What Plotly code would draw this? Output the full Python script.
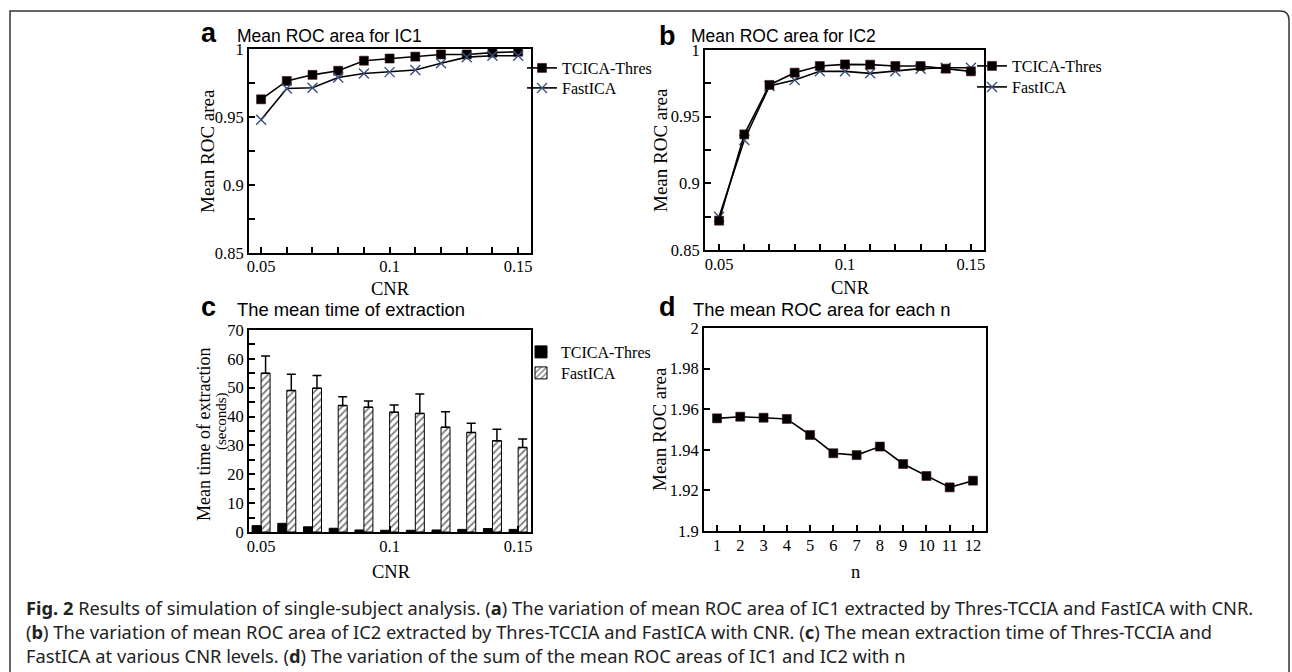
import plotly.graph_objects as go

W, H = 1292, 672

# ---------------- data ----------------
cnr = [0.05, 0.06, 0.07, 0.08, 0.09, 0.10, 0.11, 0.12, 0.13, 0.14, 0.15]
ic1_tcica = [0.963, 0.9765, 0.981, 0.984, 0.9914, 0.993, 0.9944, 0.996, 0.996, 0.9973, 0.998]
ic1_fast = [0.948, 0.971, 0.9715, 0.979, 0.982, 0.983, 0.9845, 0.9895, 0.994, 0.995, 0.995]
ic2_tcica = [0.872, 0.9367, 0.9738, 0.983, 0.988, 0.9892, 0.989, 0.988, 0.988, 0.986, 0.984]
ic2_fast = [0.875, 0.9325, 0.973, 0.9775, 0.984, 0.984, 0.9825, 0.984, 0.986, 0.9867, 0.9867]
time_tcica = [2.2, 3.0, 1.8, 1.3, 0.7, 0.6, 0.6, 0.7, 0.9, 1.2, 0.9]
time_fast = [55.0, 49.0, 49.8, 43.8, 43.2, 41.5, 41.1, 36.3, 34.5, 31.6, 29.3]
time_fast_err = [6.0, 5.7, 4.4, 3.1, 2.2, 2.5, 6.7, 5.4, 3.2, 4.0, 2.9]
n_vals = [1, 2, 3, 4, 5, 6, 7, 8, 9, 10, 11, 12]
roc_sum = [1.9555, 1.9563, 1.9558, 1.9552, 1.9473, 1.9383, 1.9374, 1.9416, 1.933, 1.9271, 1.9215, 1.9248]

cnr_ticks = [0.05, 0.1, 0.15]
cnr_ticktext = ["0.05", "0.1", "0.15"]
roc_ticks = [0.85, 0.9, 0.95, 1.0]
roc_ticktext = ["0.85", "0.9", "0.95", "1"]
time_ticks = [0, 10, 20, 30, 40, 50, 60, 70]
sum_ticks = [1.9, 1.92, 1.94, 1.96, 1.98, 2.0]
sum_ticktext = ["1.9", "1.92", "1.94", "1.96", "1.98", "2"]

# ---------------- helpers ----------------
def px(x):
    return x / W

def py(y):
    return 1 - y / H

SERIF = "Liberation Serif"
SANS = "Liberation Sans"
TICKF = dict(family=SERIF, size=16.5, color="black")

def axis(domain, rng, **kw):
    d = dict(domain=domain, range=rng, showline=True, linecolor="black", linewidth=2,
             mirror=True, ticks="inside", ticklen=6, tickwidth=1.5, tickcolor="black",
             showgrid=False, zeroline=False, tickfont=TICKF, fixedrange=True,
             automargin=False)
    d.update(kw)
    return d

fig = go.Figure()

sq = dict(symbol="square", size=9, color="black", line=dict(color="#4a0d0d", width=0.6))
xm = dict(symbol="x-thin", size=10, color="#3a5080", line=dict(color="#3a5080", width=1.4))
ln = dict(color="black", width=1.6)

# panel a
fig.add_trace(go.Scatter(x=cnr, y=ic1_tcica, mode="lines+markers", name="TCICA-Thres",
                         marker=sq, line=ln, xaxis="x", yaxis="y", legend="legend"))
fig.add_trace(go.Scatter(x=cnr, y=ic1_fast, mode="lines+markers", name="FastICA",
                         marker=xm, line=ln, xaxis="x", yaxis="y", legend="legend2"))
# panel b
fig.add_trace(go.Scatter(x=cnr, y=ic2_fast, mode="lines+markers", name="FastICA",
                         marker=xm, line=ln, xaxis="x2", yaxis="y2", legend="legend4"))
fig.add_trace(go.Scatter(x=cnr, y=ic2_tcica, mode="lines+markers", name="TCICA-Thres",
                         marker=sq, line=ln, xaxis="x2", yaxis="y2", legend="legend3"))
# panel c
fig.add_trace(go.Bar(x=cnr, y=time_tcica, name="TCICA-Thres", xaxis="x3", yaxis="y3",
                     legend="legend5", marker=dict(color="black", line=dict(color="black", width=1))))
fig.add_trace(go.Bar(x=cnr, y=time_fast, name="FastICA", xaxis="x3", yaxis="y3", legend="legend6",
                     marker=dict(color="white", line=dict(color="black", width=1),
                                 pattern=dict(shape="/", fgcolor="black", bgcolor="white",
                                              size=5, solidity=0.35)),
                     error_y=dict(type="data", array=time_fast_err, symmetric=False,
                                  arrayminus=[0] * len(time_fast_err),
                                  color="black", thickness=1.5, width=4.5)))
# panel d
fig.add_trace(go.Scatter(x=n_vals, y=roc_sum, mode="lines+markers", name="sum",
                         marker=sq, line=ln, xaxis="x4", yaxis="y4", showlegend=False))

xa_rng = [0.0453, 0.155]
xb_rng = [0.0444, 0.1552]

cnr_minor = dict(ticks="inside", ticklen=6, tickwidth=1.5, tickcolor="black",
                 tickmode="linear", tick0=0.05, dtick=0.01, showgrid=False)
roc_minor = dict(ticks="inside", ticklen=6, tickwidth=1.5, tickcolor="black",
                 tickmode="linear", tick0=0.85, dtick=0.025, showgrid=False)

LEGF = dict(family=SERIF, size=16, color="black")

def leg(x, y):
    return dict(x=px(x), y=py(y), xanchor="left", yanchor="middle", font=LEGF,
                bgcolor="rgba(0,0,0,0)", itemwidth=30)

fig.update_layout(
    width=W, height=H, margin=dict(l=0, r=0, t=0, b=0, autoexpand=False),
    paper_bgcolor="white", plot_bgcolor="white",
    barmode="group", bargap=0.3, bargroupgap=0.0,
    xaxis=axis([px(249), px(531)], xa_rng, anchor="y", tickmode="array",
               tickvals=cnr_ticks, ticktext=cnr_ticktext, minor=cnr_minor,
               ticklabelstandoff=-3),
    yaxis=axis([py(253), py(49)], [0.85, 1.0], anchor="x", tickmode="array",
               tickvals=roc_ticks, ticktext=roc_ticktext, minor=roc_minor),
    xaxis2=axis([px(705), px(984)], xb_rng, anchor="y2", tickmode="array",
                tickvals=cnr_ticks, ticktext=cnr_ticktext, minor=cnr_minor,
                ticklabelstandoff=-2),
    yaxis2=axis([py(250), py(50)], [0.85, 1.0], anchor="x2", tickmode="array",
                tickvals=roc_ticks, ticktext=roc_ticktext, minor=roc_minor),
    xaxis3=axis([px(249), px(531)], xa_rng, anchor="y3", tickmode="array",
                tickvals=cnr_ticks, ticktext=cnr_ticktext, ticklabelstandoff=-2),
    yaxis3=axis([py(532), py(330)], [0, 70], anchor="x3", tickmode="array",
                tickvals=time_ticks,
                minor=dict(ticks="inside", ticklen=6, tickwidth=1.5, tickcolor="black",
                           tickmode="linear", tick0=0, dtick=5, showgrid=False)),
    xaxis4=axis([px(704), px(986)], [0.441, 12.56], anchor="y4", tickmode="array",
                tickvals=n_vals, ticklabelstandoff=-2),
    yaxis4=axis([py(531), py(328)], [1.9, 2.0], anchor="x4", tickmode="array",
                tickvals=sum_ticks, ticktext=sum_ticktext),
    legend=leg(522, 68),
    legend2=leg(522, 88),
    legend3=leg(972, 66),
    legend4=leg(972, 87),
    legend5=leg(521, 352),
    legend6=leg(521, 373),
    showlegend=True,
)

ann = []

def text(x, y, s, size, family=SANS, xanchor="left", angle=0, color="black"):
    ann.append(dict(x=px(x), y=py(y), xref="paper", yref="paper", text=s, showarrow=False,
                    xanchor=xanchor, yanchor="middle", textangle=angle,
                    font=dict(family=family, size=size, color=color)))

# panel letters and titles
text(199, 33, "<b>a</b>", 27)
text(235, 36, "Mean ROC area for IC1", 17.5)
text(657, 36, "<b>b</b>", 27)
text(689, 36, "Mean ROC area for IC2", 17.5)
text(199, 307, "<b>c</b>", 27)
text(235, 309, "The mean time of extraction", 18.4)
text(657, 307, "<b>d</b>", 27)
text(691, 309, "The mean ROC area for each n", 18.4)

# axis titles
text(207, 151, "Mean ROC area", 19, SERIF, "center", -90)
text(390, 289, "CNR", 18.5, SERIF, "center")
text(660, 150, "Mean ROC area", 19, SERIF, "center", -90)
text(850, 288, "CNR", 18.5, SERIF, "center")
text(204, 435, "Mean time of extraction", 18, SERIF, "center", -90)
text(221, 422, "(seconds)", 15, SERIF, "center", -90)
text(391, 572, "CNR", 18.5, SERIF, "center")
text(660, 429, "Mean ROC area", 19, SERIF, "center", -90)
text(855, 572, "n", 18.5, SERIF, "center")

# caption
CAP = "Noto Sans"
cap1 = ("<b>Fig. 2</b> Results of simulation of single-subject analysis. (<b>a</b>) The variation of mean ROC area "
        "of IC1 extracted by Thres-TCCIA and FastICA with CNR.")
cap2 = ("(<b>b</b>) The variation of mean ROC area of IC2 extracted by Thres-TCCIA and FastICA with CNR. "
        "(<b>c</b>) The mean extraction time of Thres-TCCIA and")
cap3 = ("FastICA at various CNR levels. (<b>d</b>) The variation of the sum of the mean ROC areas of IC1 "
        "and IC2 with n")
text(24, 607, cap1, 18.3, CAP, color="#222222")
text(24, 631, cap2, 18.3, CAP, color="#222222")
text(24, 655, cap3, 18.3, CAP, color="#222222")

fig.update_layout(annotations=ann)

# frame around figure
fig.add_shape(type="path", xref="paper", yref="paper",
              path=f"M {px(10)},0 L {px(10)},{py(11)} L {px(1280)},{py(11)} "
                   f"Q {px(1289)},{py(11)} {px(1289)},{py(20)} L {px(1289)},0",
              line=dict(color="#333333", width=1.5))

fig.write_html("out.html", config={"displayModeBar": False},
               post_script="document.body.style.margin='0';document.body.style.padding='0';"
                           "document.body.style.overflow='hidden';")
